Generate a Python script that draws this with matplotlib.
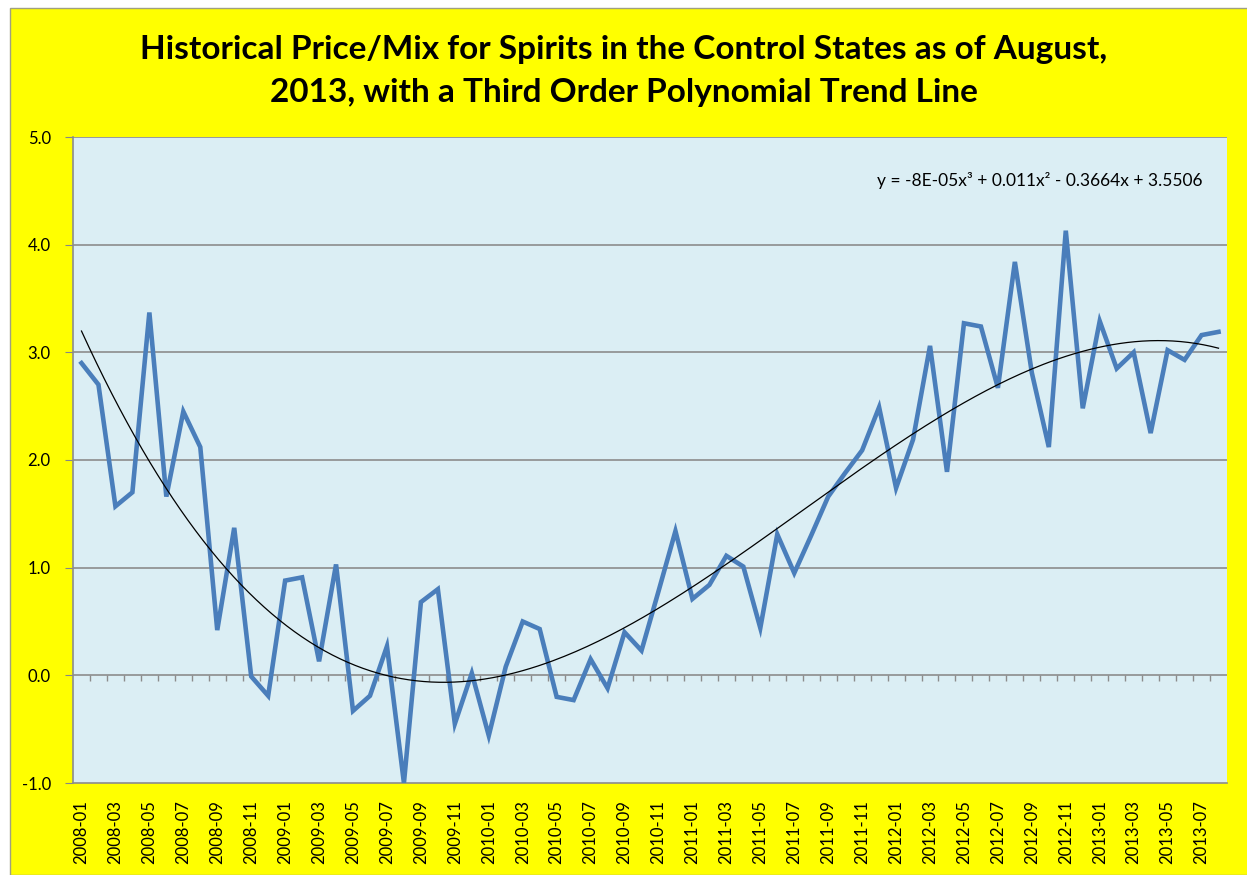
import matplotlib
matplotlib.use("Agg")
import matplotlib.pyplot as plt
import numpy as np
from matplotlib.patches import Rectangle

# monthly price/mix values, 2008-01 .. 2013-08
months = [f"{y}-{m:02d}" for y in range(2008, 2014) for m in range(1, 13)][:68]
values = [2.90, 2.70, 1.57, 1.70, 3.37, 1.66, 2.45, 2.12, 0.42, 1.37,
          -0.01, -0.19, 0.88, 0.91, 0.13, 1.03, -0.33, -0.19, 0.27, -1.00,
          0.68, 0.80, -0.45, 0.02, -0.56, 0.08, 0.50, 0.43, -0.20, -0.23,
          0.15, -0.12, 0.40, 0.23, 0.78, 1.34, 0.71, 0.84, 1.11, 1.01,
          0.44, 1.31, 0.95, 1.30, 1.66, 1.88, 2.09, 2.49, 1.74, 2.19,
          3.06, 1.89, 3.27, 3.24, 2.67, 3.84, 2.81, 2.12, 4.13, 2.48,
          3.29, 2.85, 3.00, 2.25, 3.02, 2.93, 3.16, 3.19]
yticks = [-1.0, 0.0, 1.0, 2.0, 3.0, 4.0, 5.0]
title = ("Historical Price/Mix for Spirits in the Control States as of August,\n"
         "2013, with a Third Order Polynomial Trend Line")
equation = "y = -8E-05x³ + 0.011x² - 0.3664x + 3.5506"

W, H = 1247, 875
fig = plt.figure(figsize=(W / 100, H / 100), dpi=100)
fig.patch.set_facecolor("white")
fig.patches.append(Rectangle((10 / W, 0), 1, (H - 8) / H, transform=fig.transFigure,
                             facecolor="#FFFF00", edgecolor="#A0A080", lw=1, zorder=-5))

ax = fig.add_axes([73 / W, (H - 783) / H, (1227 - 73) / W, (783 - 137) / H])
ax.set_facecolor("#DBEEF4")

x = np.arange(len(values))
ax.plot(x, values, color="#4A7EBB", lw=3.3, solid_joinstyle="miter", zorder=3)

# third order trend line (Excel style, x = 1..n)
xe = x + 1
coef = np.polyfit(xe, values, 3)
xs = np.linspace(xe[0], xe[-1], 300)
ax.plot(xs - 1, np.polyval(coef, xs), color="black", lw=0.9, zorder=4)

ax.set_xlim(-0.5, len(values) - 0.5)
ax.set_ylim(-1, 5)
ax.set_yticks(yticks)
ax.set_yticklabels([f"{v:.1f}" for v in yticks], fontsize=12, family="Lato")
ax.tick_params(axis="y", length=6, color="#868686", pad=10)
for v in yticks[1:]:
    ax.axhline(v, color="#8C8C8C", lw=1.2, zorder=1)

ax.set_xticks(x[::2])
ax.set_xticklabels(months[::2], rotation=90, fontsize=12, family="Lato")
ax.tick_params(axis="x", length=0, pad=12)
# category tick marks on the zero line
ax.vlines(x[:-1] + 0.5, -0.055, 0, color="#8C8C8C", lw=1, zorder=2)

for s in ["top", "right"]:
    ax.spines[s].set_visible(False)
for s in ["left", "bottom"]:
    ax.spines[s].set_color("#8C8C8C")
    ax.spines[s].set_linewidth(1.2)

ax.text(0.9785, 0.933, equation, transform=ax.transAxes, ha="right", va="center",
        fontsize=12.5, family="Lato")

fig.text(0.5, 1 - 71 / H, title, ha="center", va="center", fontsize=24,
         fontweight="bold", family="Lato", linespacing=1.55)

fig.savefig("out.png", dpi=100, facecolor=fig.get_facecolor())
